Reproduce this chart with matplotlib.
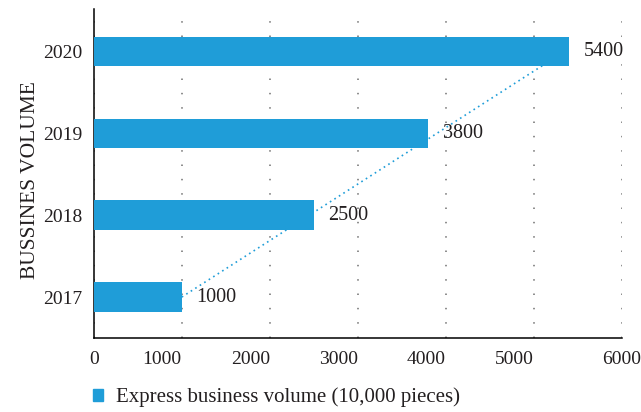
import matplotlib
matplotlib.use("Agg")
import matplotlib.pyplot as plt
import numpy as np
from matplotlib.patches import Patch

years = ["2017", "2018", "2019", "2020"]
volume = [1000, 2500, 3800, 5400]
xticks = [0, 1000, 2000, 3000, 4000, 5000, 6000]
legend_label = "Express business volume (10,000 pieces)"
ylabel = "BUSSINES VOLUME"

blue = "#1f9dd8"
txt = "#231f20"
plt.rcParams["font.family"] = ["Liberation Serif", "DejaVu Serif"]
plt.rcParams["font.size"] = 14

fig = plt.figure(figsize=(6.41, 4.12), dpi=100)
ax = fig.add_axes([0.1462, 0.1796, 0.9704 - 0.1462, 0.979 - 0.1796])

pos = np.arange(len(years))
ax.barh(pos, volume, height=0.357, color=blue, zorder=3)

# linear trendline
coef = np.polyfit(pos, volume, 1)
ax.plot(np.polyval(coef, pos), pos, color=blue, linestyle=(0, (1, 2.2)), lw=1.2, zorder=2)

for p, v in zip(pos, volume):
    ax.annotate(str(v), (v, p), xytext=(10.5, 0), textcoords="offset points",
                va="center", ha="left", color=txt, fontsize=14.5)

ax.set_xlim(0, 6000)
ax.set_ylim(-0.5, 3.52)
ax.set_yticks(pos)
ax.set_yticklabels(years, color=txt)
ax.set_xticks(xticks)
ax.set_xticklabels([str(t) for t in xticks], color=txt)
for lab, t in zip(ax.get_xticklabels(), xticks):
    if t not in (0, 6000):
        lab.set_ha("right")
ax.tick_params(axis="both", length=0)
ax.tick_params(axis="x", pad=9)
ax.tick_params(axis="y", pad=8)

ax.grid(axis="x", color="#7a7a7a", linestyle=(0, (0.9, 7.7)), lw=1.2, zorder=0)
ax.set_axisbelow(True)
for s in ("top", "right"):
    ax.spines[s].set_visible(False)
for s in ("left", "bottom"):
    ax.spines[s].set_color("black")
    ax.spines[s].set_linewidth(1.1)

ax.set_ylabel(ylabel, color=txt, fontsize=15.5)
ax.yaxis.set_label_coords(-0.102, 0.48)

handle = Patch(color=blue)
fig.legend([handle], [legend_label], loc="center left",
           bbox_to_anchor=(93 / 641, 0.035), frameon=False,
           borderpad=0, borderaxespad=0,
           handlelength=0.5, handleheight=0.5, handletextpad=0.62,
           prop={"size": 15}, labelcolor=txt)

fig.savefig("out.png", dpi=100)
